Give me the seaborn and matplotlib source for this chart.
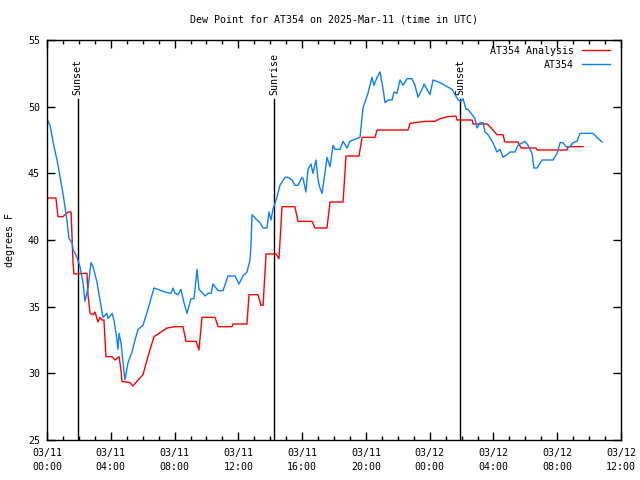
import matplotlib
matplotlib.use("Agg")
import numpy as np
import pandas as pd
import matplotlib.pyplot as plt
import matplotlib.dates as mdates
import seaborn as sns

# ---------------- data ----------------
START = pd.Timestamp("2025-03-11 00:00")

obs_hours = [0.00, 0.19, 0.44, 0.63, 0.82, 1.00, 1.25, 1.38, 1.57, 1.63, 1.88, 2.07, 2.26, 2.38,
             2.57, 2.76, 2.89, 3.14, 3.32, 3.51, 3.76, 3.83, 4.08, 4.20, 4.39, 4.45, 4.52, 4.64,
             4.77, 4.89, 5.08, 5.33, 5.52, 5.71, 6.02, 6.33, 6.71, 7.40, 7.78, 7.90, 8.03, 8.22,
             8.40, 8.59, 8.78, 9.03, 9.22, 9.41, 9.53, 9.78, 9.91, 10.10, 10.29, 10.41, 10.73,
             11.04, 11.35, 11.79, 12.04, 12.29, 12.54, 12.73, 12.79, 12.86, 13.17, 13.36, 13.55,
             13.80, 13.92, 14.05, 14.17, 14.42, 14.61, 14.93, 15.12, 15.37, 15.55, 15.74, 15.99,
             16.06, 16.24, 16.37, 16.56, 16.68, 16.87, 17.00, 17.12, 17.25, 17.44, 17.56, 17.75,
             17.94, 18.06, 18.38, 18.57, 18.82, 19.00, 19.19, 19.63, 19.82, 20.13, 20.38, 20.51,
             20.70, 20.89, 21.08, 21.20, 21.39, 21.64, 21.76, 21.95, 22.14, 22.33, 22.58, 22.89,
             23.08, 23.27, 23.52, 23.65, 23.83, 24.02, 24.21, 24.65, 25.09, 25.40, 25.59, 25.78,
             25.97, 26.09, 26.28, 26.40, 26.66, 26.84, 26.97, 27.16, 27.35, 27.47, 27.66, 27.97,
             28.22, 28.41, 28.60, 28.85, 29.04, 29.35, 29.54, 29.98, 30.17, 30.42, 30.54, 30.73,
             31.05, 31.74, 31.99, 32.18, 32.36, 32.55, 32.80, 32.99, 33.24, 33.43, 34.24, 34.49,
             34.81]
obs_dewpt = [49.1, 48.6, 47.0, 46.0, 44.7, 43.5, 41.5, 40.1, 39.8, 39.3, 38.7, 38.0, 36.8, 35.4,
             36.4, 38.3, 38.0, 36.8, 35.5, 34.2, 34.5, 34.1, 34.5, 34.0, 32.5, 31.8, 33.0, 32.3,
             30.8, 29.5, 30.8, 31.6, 32.5, 33.3, 33.6, 34.8, 36.4, 36.1, 36.0, 36.4, 36.0, 35.9,
             36.3, 35.3, 34.5, 35.6, 35.6, 37.8, 36.3, 36.0, 35.8, 36.0, 36.0, 36.7, 36.2,
             36.2, 37.3, 37.3, 36.7, 37.3, 37.6, 38.5, 39.5, 41.9, 41.5, 41.3, 40.9,
             40.9, 42.1, 41.5, 42.3, 43.2, 44.1, 44.7, 44.7, 44.5, 44.1, 44.1, 44.7,
             44.6, 43.6, 45.3, 45.7, 45.0, 46.0, 44.5, 43.9, 43.5, 45.1, 46.2, 45.5,
             47.1, 46.8, 46.8, 47.4, 46.9, 47.4, 47.5, 47.7, 49.9, 51.0, 52.2, 51.6,
             52.2, 52.6, 51.3, 50.3, 50.5, 50.5, 51.1, 51.0, 52.0, 51.6, 52.1, 52.1,
             51.6, 50.7, 51.3, 51.7, 51.3, 50.9, 52.0, 51.8, 51.5, 51.3, 50.9, 50.5,
             50.4, 50.6, 49.8, 49.8, 49.4, 49.1, 48.4, 48.8, 48.8, 48.1, 47.9, 47.3,
             46.6, 46.8, 46.2, 46.4, 46.6, 46.6, 47.1, 47.4, 47.1, 46.5, 45.4, 45.4,
             46.0, 46.0, 46.5, 47.3, 47.3, 47.0, 47.0, 47.3, 47.4, 48.0, 48.0, 47.7,
             47.35]

ana_hours = [0.00, 0.56, 0.69, 1.00, 1.32, 1.51, 1.57, 1.63, 1.69, 2.38, 2.51, 2.57, 2.70, 2.89,
             3.01, 3.20, 3.32, 3.45, 3.57, 3.70, 4.08, 4.26, 4.52, 4.64, 4.70, 5.21, 5.39, 5.71,
             6.02, 6.33, 6.71, 7.09, 7.53, 8.03, 8.53, 8.72, 9.35, 9.53, 9.72, 10.54, 10.73,
             11.60, 11.67, 12.54, 12.67, 13.23, 13.42, 13.55, 13.74, 14.36, 14.55, 14.74, 15.55,
             15.74, 16.62, 16.81, 17.56, 17.75, 18.57, 18.75, 19.57, 19.76, 20.57, 20.70, 21.64,
             22.64, 22.77, 23.71, 24.33, 24.65, 25.15, 25.65, 25.71, 26.66, 26.72, 27.60, 27.78,
             28.22, 28.60, 28.72, 29.54, 29.73, 30.67, 30.73, 32.61, 32.68, 33.62]
ana_dewpt = [43.15, 43.15, 41.75, 41.75, 42.1, 42.1, 40.25, 38.3, 37.45, 37.5, 37.5, 35.9, 34.5, 34.4,
             34.6, 33.85, 34.2, 34.0, 34.0, 31.25, 31.25, 31.0, 31.25, 30.25, 29.4, 29.3, 29.05, 29.5,
             29.9, 31.25, 32.75, 33.05, 33.4, 33.5, 33.5, 32.4, 32.4, 31.75, 34.2, 34.2, 33.5,
             33.5, 33.7, 33.7, 35.9, 35.9, 35.1, 35.1, 38.95, 38.95, 38.6, 42.5, 42.5,
             41.4, 41.4, 40.9, 40.9, 42.85, 42.85, 46.3, 46.3, 47.7, 47.7, 48.25, 48.25,
             48.25, 48.75, 48.9, 48.9, 49.1, 49.25, 49.3, 49.0, 49.0, 48.7, 48.7, 48.5,
             47.9, 47.9, 47.35, 47.35, 46.9, 46.9, 46.75, 46.75, 47.0, 47.0]

event_hours = [1.93, 14.26, 25.92]
event_labels = ["Sunset", "Sunrise", "Sunset"]

series_names = ["AT354 Analysis", "AT354"]
series_colors = ["#ff0000", "#0a80ff"]

# ---------------- frame ----------------
df = pd.concat([
    pd.DataFrame({"time": START + pd.to_timedelta(ana_hours, unit="h"),
                  "dewpt": ana_dewpt, "series": series_names[0]}),
    pd.DataFrame({"time": START + pd.to_timedelta(obs_hours, unit="h"),
                  "dewpt": obs_dewpt, "series": series_names[1]}),
], ignore_index=True)

FS = 7.2
plt.rcParams["font.family"] = ["DejaVu Sans Mono"]
plt.rcParams["font.size"] = FS

fig = plt.figure(figsize=(6.4, 4.8), dpi=100)
ax = fig.add_axes([47 / 640, 1 - 440 / 480, (621 - 47) / 640, 400 / 480])

# event lines
for h, lab in zip(event_hours, event_labels):
    t = START + pd.Timedelta(hours=h)
    ax.plot([t, t], [25, 50.6], color="black", lw=1.0, zorder=1)
    ax.text(t, 50.85, lab, rotation=90, ha="center", va="bottom", fontsize=FS)

sns.lineplot(data=df, x="time", y="dewpt", hue="series", hue_order=series_names,
             palette=series_colors, estimator=None, sort=True, lw=1.0, ax=ax, zorder=2)

ax.set_xlim(START, START + pd.Timedelta(hours=36))
ax.set_ylim(25, 55)
ax.set_yticks(np.arange(25, 56, 5))
ax.xaxis.set_major_locator(mdates.HourLocator(byhour=range(0, 24, 4)))
ax.xaxis.set_minor_locator(mdates.HourLocator())
ax.xaxis.set_major_formatter(mdates.DateFormatter("%m/%d\n%H:%M"))
ax.tick_params(which="both", direction="in", top=True, right=True, width=1, labelsize=FS)
ax.tick_params(which="major", length=6, pad=6)
ax.tick_params(which="minor", length=3)
ax.tick_params(axis="y", pad=5)
for lbl in ax.get_xticklabels():
    lbl.set_linespacing(1.5)
for s in ax.spines.values():
    s.set_linewidth(1)
ax.set_xlabel("")
ax.set_ylabel("")

leg = ax.legend(loc="upper right", markerfirst=False, frameon=False, fontsize=FS,
                handlelength=2.8, handletextpad=0.8, borderaxespad=0.0, labelspacing=0.4,
                bbox_to_anchor=((614 - 47) / 574, 1 - 2 / 400))
for t in leg.get_texts():
    t.set_ha("right")

fig.text(334 / 640, 1 - 19 / 480, "Dew Point for AT354 on 2025-Mar-11 (time in UTC)",
         ha="center", va="center", fontsize=FS)
fig.text(10 / 640, 0.5, "degrees F", rotation=90, ha="center", va="center", fontsize=FS)

fig.savefig("out.png", dpi=100)
